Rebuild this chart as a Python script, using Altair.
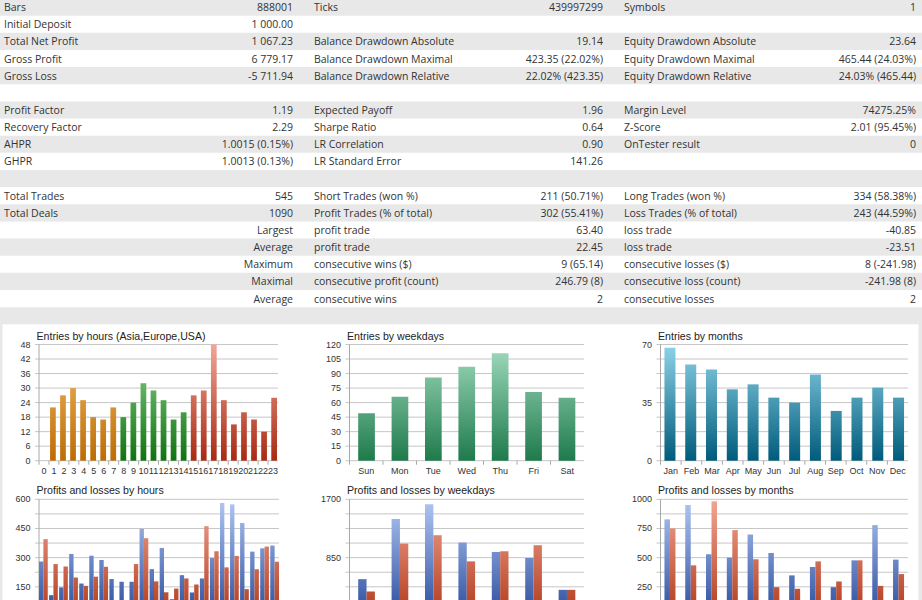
import altair as alt

W, H = 922, 600

# ---------------- summary table: one entry per row, three label/value pairs ----------------
col1_labels = ["Bars", "Initial Deposit", "Total Net Profit", "Gross Profit", "Gross Loss", "",
               "Profit Factor", "Recovery Factor", "AHPR", "GHPR", "",
               "Total Trades", "Total Deals", "", "", "", "", "", ""]
col1_values = ["888001", "1 000.00", "1 067.23", "6 779.17", "-5 711.94", "",
               "1.19", "2.29", "1.0015 (0.15%)", "1.0013 (0.13%)", "",
               "545", "1090", "Largest", "Average", "Maximum", "Maximal", "Average", ""]
col2_labels = ["Ticks", "", "Balance Drawdown Absolute", "Balance Drawdown Maximal",
               "Balance Drawdown Relative", "",
               "Expected Payoff", "Sharpe Ratio", "LR Correlation", "LR Standard Error", "",
               "Short Trades (won %)", "Profit Trades (% of total)", "profit trade", "profit trade",
               "consecutive wins ($)", "consecutive profit (count)", "consecutive wins", ""]
col2_values = ["439997299", "", "19.14", "423.35 (22.02%)", "22.02% (423.35)", "",
               "1.96", "0.64", "0.90", "141.26", "",
               "211 (50.71%)", "302 (55.41%)", "63.40", "22.45", "9 (65.14)", "246.79 (8)", "2", ""]
col3_labels = ["Symbols", "", "Equity Drawdown Absolute", "Equity Drawdown Maximal",
               "Equity Drawdown Relative", "",
               "Margin Level", "Z-Score", "OnTester result", "", "",
               "Long Trades (won %)", "Loss Trades (% of total)", "loss trade", "loss trade",
               "consecutive losses ($)", "consecutive loss (count)", "consecutive losses", ""]
col3_values = ["1", "", "23.64", "465.44 (24.03%)", "24.03% (465.44)", "",
               "74275.25%", "2.01 (95.45%)", "0", "", "",
               "334 (58.38%)", "243 (44.59%)", "-40.85", "-23.51", "8 (-241.98)", "-241.98 (8)", "2", ""]

# ---------------- chart series ----------------
hours = [str(h) for h in range(24)]
hour_sessions = ["Asia"] * 8 + ["Europe"] * 7 + ["USA"] * 9
entries_by_hour = [0, 22, 27, 30, 25, 18, 17, 22, 18, 24, 32, 29, 25, 17, 20,
                   27, 29, 48, 25, 15, 20, 17, 12, 26]

weekdays = ["Sun", "Mon", "Tue", "Wed", "Thu", "Fri", "Sat"]
entries_by_weekday = [49, 66, 86, 97, 111, 71, 65]

months = ["Jan", "Feb", "Mar", "Apr", "May", "Jun", "Jul", "Aug", "Sep", "Oct", "Nov", "Dec"]
entries_by_month = [68, 58, 55, 43, 46, 38, 35, 52, 30, 38, 44, 38]

profit_by_hour = [280, 107, 147, 319, 167, 310, 288, 190, 176, 176, 448, 241,
                  350, 86, 210, 121, 193, 298, 581, 574, 478, 331, 348, 362]
loss_by_hour = [395, 267, 255, 198, 155, 202, 253, 76, 79, 267, 400, 178,
                122, 141, 193, 162, 462, 333, 250, 309, 138, 241, 357, 279]

profit_by_weekday = [537, 1412, 1627, 1070, 933, 845, 381]
loss_by_weekday = [357, 1055, 1177, 796, 943, 1031, 381]

profit_by_month = [828, 951, 529, 500, 698, 540, 348, 420, 247, 477, 779, 483]
loss_by_month = [750, 434, 983, 736, 486, 247, 233, 468, 296, 477, 258, 359]

# ---------------- styling ----------------
FONT_TABLE = "Open Sans"
FONT_CHART = "Liberation Sans"
TEXT = "#333333"
BAND = "#e8e8e8"
GRID = "#c6c6c6"
AXIS = "#a8a8a8"

SESSION_COLORS = {"Asia": ("#f3be66", "#bd6c05"),
                  "Europe": ("#8fd58f", "#0f730f"),
                  "USA": ("#f1a697", "#a82a12")}
WEEK_COLORS = ("#a2dcc0", "#1e7a4b")
MONTH_COLORS = ("#8ed4e8", "#005b7b")
PROFIT_COLORS = ("#b2c8f4", "#2b4d9c")
LOSS_COLORS = ("#f2a795", "#b03a1c")


def plot_gradient(value, vmax, colors):
    """Vertical fill that runs light at the top of the plot to dark at zero."""
    top, bottom = colors
    return {"gradient": "linear", "x1": 0, "x2": 0, "y1": 1 - vmax / value, "y2": 1,
            "stops": [{"offset": 0, "color": top}, {"offset": 1, "color": bottom}]}


layers = []

# ---------------- table ----------------
table_rows = [{"row": i, "l1": col1_labels[i], "v1": col1_values[i],
               "l2": col2_labels[i], "v2": col2_values[i],
               "l3": col3_labels[i], "v3": col3_values[i]} for i in range(len(col1_labels))]
table_data = alt.InlineData(values=table_rows)
row_scale = alt.Scale(domain=list(range(len(table_rows))), range=[-1.5, 324.3],
                      paddingInner=0, paddingOuter=0)

layers.append(
    alt.Chart(table_data).mark_rect(color=BAND)
    .encode(y=alt.Y("row:O", scale=row_scale, axis=None), x=alt.value(0), x2=alt.value(W))
    .transform_filter("datum.row % 2 == 0")
)
for field, xpos, align in [("l1", 4, "left"), ("v1", 293, "right"),
                           ("l2", 314, "left"), ("v2", 603, "right"),
                           ("l3", 624, "left"), ("v3", 916, "right")]:
    layers.append(
        alt.Chart(table_data)
        .mark_text(align=align, baseline="middle", dy=1, font=FONT_TABLE, fontSize=10.5,
                   color=TEXT)
        .encode(y=alt.Y("row:O", scale=row_scale, axis=None), x=alt.value(xpos),
                text=alt.Text(f"{field}:N"))
    )

# side margins of the chart area
side = alt.InlineData(values=[{"k": 0}])
for a, b in [(0, 2.5), (918.5, W)]:
    layers.append(alt.Chart(side).mark_rect(color=BAND).encode(
        x=alt.value(a), x2=alt.value(b), y=alt.value(324), y2=alt.value(H)))


def fmt(v):
    return str(int(v)) if float(v).is_integer() else str(v)


def bar_panel(title, cats, series, box, vmax, grid_step, label_every,
              pad_inner, pad_outer, title_y, x_labels=True, zero_label=True):
    x0, x1, top, bottom = box
    xs = alt.Scale(domain=cats, range=[x0, x1], paddingInner=pad_inner, paddingOuter=pad_outer)
    xb = alt.Scale(domain=cats, range=[x0, x1], paddingInner=0, paddingOuter=0)
    ys = alt.Scale(domain=[0, vmax], range=[bottom, top], nice=False, zero=False)
    out = []

    # title
    out.append(alt.Chart(alt.InlineData(values=[{"t": title}]))
               .mark_text(align="left", baseline="alphabetic", font=FONT_CHART,
                          fontSize=10.6, color="#222222")
               .encode(x=alt.value(x0 - 2.5), y=alt.value(title_y), text="t:N"))

    # gridlines and value labels
    n = round(vmax / grid_step)
    ticks = [{"t": k * grid_step,
              "lab": fmt(k * grid_step) if (k % label_every == 0 and (k > 0 or zero_label)) else ""}
             for k in range(n + 1)]
    tick_data = alt.InlineData(values=ticks)
    out.append(alt.Chart(tick_data).mark_rule(color=GRID, strokeWidth=1)
               .encode(y=alt.Y("t:Q", scale=ys, axis=None), x=alt.value(x0 - 4), x2=alt.value(x1)))
    out.append(alt.Chart(tick_data)
               .mark_text(align="right", baseline="middle", font=FONT_CHART, fontSize=9, color=TEXT)
               .encode(y=alt.Y("t:Q", scale=ys, axis=None), x=alt.value(x0 - 8.5), text="lab:N")
               .transform_filter("datum.lab != ''"))

    # vertical axis line
    out.append(alt.Chart(alt.InlineData(values=[{"k": 0}])).mark_rule(color=AXIS)
               .encode(x=alt.value(x0), y=alt.value(top), y2=alt.value(bottom)))

    # category ticks and labels
    cat_data = alt.InlineData(values=[{"c": c} for c in cats])
    out.append(alt.Chart(cat_data).mark_rule(color=AXIS)
               .encode(x=alt.X("c:N", scale=xb, axis=None, bandPosition=0),
                       y=alt.value(bottom), y2=alt.value(bottom + 4)))
    if x_labels:
        out.append(alt.Chart(cat_data)
                   .mark_text(align="center", baseline="middle", font=FONT_CHART,
                              fontSize=9, color=TEXT)
                   .encode(x=alt.X("c:N", scale=xs, axis=None), y=alt.value(bottom + 10),
                           text="c:N"))

    # bars
    names = [s[0] for s in series]
    recs = []
    for name, values, colors in series:
        for i, c in enumerate(cats):
            v = values[i]
            col = colors[i] if isinstance(colors, list) else colors
            recs.append({"c": c, "s": name, "v": v,
                         "g": plot_gradient(v, vmax, col) if v > 0 else None})
    enc = dict(x=alt.X("c:N", scale=xs, axis=None),
               y=alt.Y("v:Q", scale=ys, axis=None),
               color=alt.Color("g:N", scale=None))
    if len(series) > 1:
        enc["xOffset"] = alt.XOffset("s:N", scale=alt.Scale(domain=names, paddingInner=0,
                                                            paddingOuter=0))
    out.append(alt.Chart(alt.InlineData(values=recs)).mark_bar()
               .encode(**enc).transform_filter("datum.v > 0"))
    return out


TOP_ROW = (344.5, 460.7)
BOTTOM_ROW = (499.3, 616.0)

layers += bar_panel("Entries by hours (Asia,Europe,USA)", hours,
                    [("Entries", entries_by_hour, [SESSION_COLORS[s] for s in hour_sessions])],
                    (39, 278, *TOP_ROW), 48, 6, 1, 0.43, 0.1, 340)
layers += bar_panel("Entries by weekdays", weekdays,
                    [("Entries", entries_by_weekday, WEEK_COLORS)],
                    (349.5, 584, *TOP_ROW), 120, 15, 1, 0.5, 0.26, 340)
layers += bar_panel("Entries by months", months,
                    [("Entries", entries_by_month, MONTH_COLORS)],
                    (660.5, 908, *TOP_ROW), 70, 8.75, 4, 0.47, 0.19, 340)

layers += bar_panel("Profits and losses by hours", hours,
                    [("Profit", profit_by_hour, PROFIT_COLORS), ("Loss", loss_by_hour, LOSS_COLORS)],
                    (39, 279, *BOTTOM_ROW), 600, 75, 2, 0.13, 0.0, 494,
                    x_labels=False, zero_label=False)
layers += bar_panel("Profits and losses by weekdays", weekdays,
                    [("Profit", profit_by_weekday, PROFIT_COLORS),
                     ("Loss", loss_by_weekday, LOSS_COLORS)],
                    (349.5, 584, *BOTTOM_ROW), 1700, 212.5, 4, 0.5, 0.26, 494,
                    x_labels=False, zero_label=False)
layers += bar_panel("Profits and losses by months", months,
                    [("Profit", profit_by_month, PROFIT_COLORS), ("Loss", loss_by_month, LOSS_COLORS)],
                    (660.5, 908, *BOTTOM_ROW), 1000, 125, 2, 0.47, 0.19, 494,
                    x_labels=False, zero_label=False)

chart = (
    alt.layer(*layers)
    .resolve_scale(x="independent", y="independent", color="independent", xOffset="independent")
    .properties(width=W, height=H, autosize=alt.AutoSizeParams(type="none"),
                padding=0, background="white")
    .configure_view(stroke=None)
)

chart.save("out.html", embed_options={"renderer": "svg", "actions": False})
